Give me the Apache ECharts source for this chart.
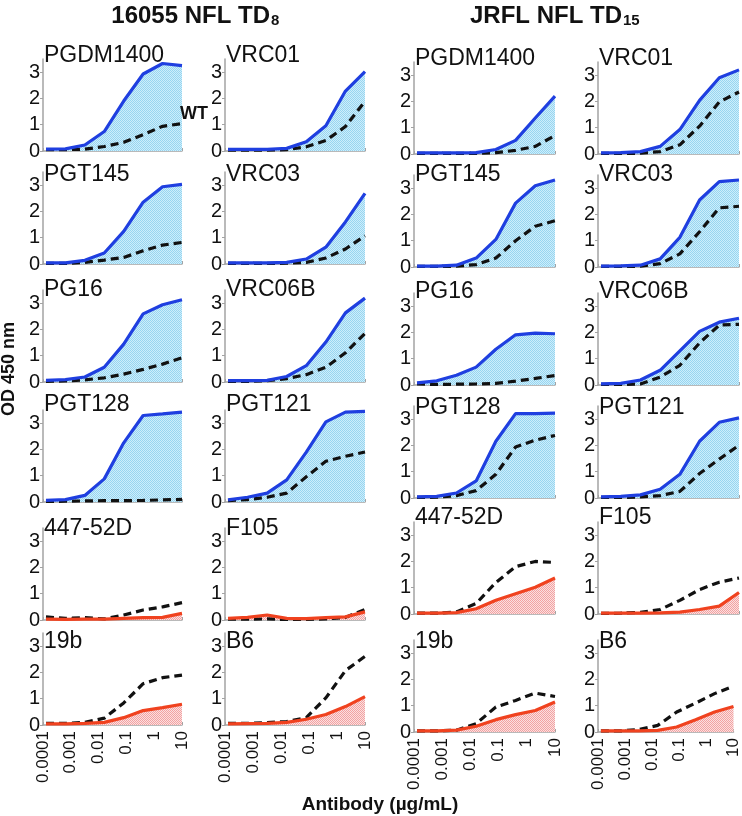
<!DOCTYPE html>
<html><head><meta charset="utf-8">
<script src="https://cdn.jsdelivr.net/npm/echarts@6/dist/echarts.min.js"></script>
<style>html,body{margin:0;padding:0;background:#fff}#chart{width:742px;height:816px}</style>
</head><body><div id="chart"></div>
<script>
// ---------- data ----------
const concentrations = [0.000128, 0.00064, 0.0032, 0.016, 0.08, 0.4, 2, 10];
const xTickLabels = ['0.0001', '0.001', '0.01', '0.1', '1', '10'];
const yTickLabels = ['0', '1', '2', '3'];
const envelopes = ['16055 NFL TD', 'JRFL NFL TD'];
const envelopeSubscripts = ['8', '15'];
const antibodies = ['PGDM1400', 'VRC01', 'PGT145', 'VRC03', 'PG16', 'VRC06B',
                    'PGT128', 'PGT121', '447-52D', 'F105', '19b', 'B6'];

// solid line (trimer), one row per antibody
const trimer16055 = [
  [0.07, 0.08, 0.23, 0.74, 1.90, 2.93, 3.33, 3.25],
  [0.06, 0.06, 0.06, 0.10, 0.35, 0.96, 2.28, 3.02],
  [0.04, 0.04, 0.14, 0.42, 1.24, 2.35, 2.94, 3.03],
  [0.04, 0.04, 0.04, 0.06, 0.19, 0.64, 1.60, 2.69],
  [0.06, 0.09, 0.19, 0.56, 1.44, 2.59, 2.94, 3.13],
  [0.05, 0.05, 0.06, 0.21, 0.62, 1.52, 2.63, 3.19],
  [0.06, 0.09, 0.25, 0.88, 2.25, 3.29, 3.35, 3.42],
  [0.08, 0.18, 0.34, 0.84, 1.90, 3.05, 3.42, 3.45],
  [0.03, 0.02, 0.03, 0.03, 0.06, 0.09, 0.10, 0.25],
  [0.06, 0.10, 0.19, 0.06, 0.05, 0.09, 0.12, 0.31],
  [0.04, 0.04, 0.06, 0.10, 0.28, 0.55, 0.66, 0.79],
  [0.04, 0.05, 0.06, 0.10, 0.22, 0.40, 0.70, 1.08]
];
// dashed line (WT)
const wt16055 = [
  [0.05, 0.05, 0.07, 0.17, 0.33, 0.62, 0.94, 1.04],
  [0.03, 0.03, 0.03, 0.05, 0.16, 0.40, 0.93, 1.89],
  [0.02, 0.02, 0.06, 0.15, 0.25, 0.50, 0.72, 0.82],
  [0.02, 0.02, 0.02, 0.03, 0.06, 0.23, 0.57, 1.07],
  [0.02, 0.04, 0.08, 0.16, 0.30, 0.48, 0.68, 0.92],
  [0.02, 0.02, 0.05, 0.13, 0.28, 0.56, 1.11, 1.85],
  [0.02, 0.03, 0.04, 0.05, 0.05, 0.06, 0.08, 0.10],
  [0.05, 0.09, 0.18, 0.34, 0.96, 1.55, 1.74, 1.90],
  [0.12, 0.06, 0.09, 0.04, 0.19, 0.38, 0.50, 0.66],
  [0.03, 0.03, 0.04, 0.02, 0.02, 0.04, 0.10, 0.40],
  [0.06, 0.06, 0.10, 0.26, 0.84, 1.57, 1.80, 1.90],
  [0.06, 0.06, 0.09, 0.13, 0.28, 1.03, 2.07, 2.61]
];
const trimerJRFL = [
  [0.04, 0.04, 0.04, 0.05, 0.17, 0.52, 1.37, 2.20],
  [0.04, 0.05, 0.09, 0.29, 0.93, 2.04, 2.90, 3.20],
  [0.03, 0.03, 0.07, 0.34, 1.05, 2.43, 3.09, 3.31],
  [0.03, 0.04, 0.07, 0.31, 1.13, 2.55, 3.25, 3.31],
  [0.08, 0.16, 0.37, 0.68, 1.36, 1.91, 1.97, 1.95],
  [0.04, 0.06, 0.19, 0.56, 1.30, 2.04, 2.39, 2.54],
  [0.04, 0.06, 0.19, 0.65, 2.16, 3.21, 3.21, 3.23],
  [0.04, 0.06, 0.12, 0.33, 0.90, 2.16, 2.88, 3.05],
  [0.03, 0.03, 0.05, 0.20, 0.52, 0.77, 1.02, 1.37],
  [0.03, 0.03, 0.03, 0.04, 0.07, 0.17, 0.30, 0.82],
  [0.04, 0.04, 0.07, 0.22, 0.47, 0.66, 0.82, 1.14],
  [0.04, 0.04, 0.04, 0.06, 0.19, 0.47, 0.76, 0.97]
];
const wtJRFL = [
  [0.02, 0.02, 0.02, 0.02, 0.05, 0.14, 0.29, 0.70],
  [0.02, 0.02, 0.03, 0.09, 0.35, 1.06, 1.98, 2.36],
  [0.02, 0.02, 0.03, 0.09, 0.34, 1.00, 1.55, 1.76],
  [0.02, 0.02, 0.03, 0.13, 0.50, 1.34, 2.25, 2.31],
  [0.04, 0.02, 0.03, 0.04, 0.06, 0.15, 0.25, 0.36],
  [0.02, 0.02, 0.04, 0.30, 0.75, 1.60, 2.28, 2.31],
  [0.02, 0.03, 0.09, 0.28, 0.90, 1.94, 2.20, 2.38],
  [0.02, 0.02, 0.04, 0.09, 0.25, 0.93, 1.48, 2.01],
  [0.03, 0.03, 0.08, 0.40, 1.20, 1.80, 2.00, 1.96],
  [0.02, 0.03, 0.06, 0.17, 0.52, 0.93, 1.21, 1.37],
  [0.04, 0.04, 0.07, 0.32, 0.95, 1.20, 1.48, 1.35],
  [0.04, 0.04, 0.09, 0.25, 0.76, 1.10, 1.46, 1.74]
];
const trimerData = [trimer16055, trimerJRFL];
const wtData = [wt16055, wtJRFL];

// ---------- layout & style ----------
const FONT = "'Liberation Sans', Arial, sans-serif";
const colLeft = [43, 225, 414, 598];
const colRight = [182, 365, 555, 739];
const rowZeroY = [[151, 264, 382, 502, 620, 725], [154, 267, 385, 498, 614, 732]];
const titleCapTop = [[46, 165, 280, 395, 519, 632], [49, 165, 282, 398, 508, 632]];
const PLOT_H = 92;
const AXIS_GRAY = '#a3a3a3';
const BLUE = '#1f3fe0', RED = '#f0421f';

function makePattern(bg, dot) {
  const c = document.createElement('canvas');
  c.width = 2; c.height = 2;
  const g = c.getContext('2d');
  g.fillStyle = bg; g.fillRect(0, 0, 2, 2);
  g.fillStyle = dot; g.fillRect(0, 0, 1, 1); g.fillRect(1, 1, 1, 1);
  return { image: c, repeat: 'repeat' };
}
const bluePattern = makePattern('#cdeefb', '#98d5f0');
const redPattern = makePattern('#fbe0e0', '#f2a2a2');

const grids = [], xAxes = [], yAxes = [], series = [], graphics = [];
let gi = 0;
for (let e = 0; e < 2; e++) {
  for (let p = 0; p < antibodies.length; p++) {
    const row = p >> 1, col = e * 2 + (p & 1);
    const bottomRow = row === 5;
    const isBnAb = p < 8;
    grids.push({
      left: colLeft[col], width: colRight[col] - colLeft[col],
      top: rowZeroY[e][row] - PLOT_H, height: PLOT_H
    });
    xAxes.push({
      type: 'log', logBase: 10, min: 0.0001, max: 10, gridIndex: gi,
      axisLine: { lineStyle: { color: AXIS_GRAY, width: 1.5 } },
      axisTick: { show: true, inside: true, length: 3, lineStyle: { color: AXIS_GRAY } },
      minorTick: { show: true, splitNumber: 2, length: 2, lineStyle: { color: AXIS_GRAY } },
      splitLine: { show: false },
      axisLabel: {
        show: bottomRow, rotate: 90, margin: 6, fontSize: 17, color: '#111', fontFamily: FONT,
        formatter: v => xTickLabels[Math.round(Math.log10(v)) + 4] || ''
      }
    });
    yAxes.push({
      type: 'value', min: 0, max: 3.5, interval: 1, gridIndex: gi,
      axisLine: { show: true, lineStyle: { color: AXIS_GRAY, width: 1.5 } },
      axisTick: { show: true, length: 3, lineStyle: { color: AXIS_GRAY } },
      splitLine: { show: false },
      axisLabel: {
        margin: 3, fontSize: 20, color: '#111', fontFamily: FONT, showMaxLabel: false,
        formatter: v => (Number.isInteger(v) ? yTickLabels[v] : '')
      }
    });
    const tr = trimerData[e][p].map((v, i) => [concentrations[i], v]);
    const wt = wtData[e][p].map((v, i) => [concentrations[i], v]);
    series.push({
      type: 'line', xAxisIndex: gi, yAxisIndex: gi, data: tr, showSymbol: false, silent: true,
      lineStyle: { width: 0, opacity: 0 }, areaStyle: { color: isBnAb ? bluePattern : redPattern, opacity: 1 },
      z: 1
    });
    series.push({
      type: 'line', xAxisIndex: gi, yAxisIndex: gi, data: wt, showSymbol: false, silent: true,
      lineStyle: { width: 3.2, color: '#111', type: [8, 5] }, z: 2
    });
    series.push({
      type: 'line', xAxisIndex: gi, yAxisIndex: gi, data: tr, showSymbol: false, silent: true,
      lineStyle: { width: 3.2, color: isBnAb ? BLUE : RED }, z: 3
    });
    graphics.push({
      type: 'text', x: colLeft[col] + 1, y: titleCapTop[e][row] - 2, z: 10,
      style: { text: antibodies[p], fontSize: 23, fontFamily: FONT, fill: '#111', align: 'left', verticalAlign: 'top' }
    });
    gi++;
  }
}

// headings
const headingRight = [270, 622];
for (let e = 0; e < 2; e++) {
  graphics.push({
    type: 'text', x: headingRight[e], y: 4, z: 10,
    style: { text: envelopes[e], fontSize: 24, fontWeight: 'bold', fontFamily: FONT, fill: '#111', align: 'right', verticalAlign: 'top' }
  });
  graphics.push({
    type: 'text', x: headingRight[e] + 1, y: 13, z: 10,
    style: { text: envelopeSubscripts[e], fontSize: 15, fontWeight: 'bold', fontFamily: FONT, fill: '#111', align: 'left', verticalAlign: 'top' }
  });
}
graphics.push({
  type: 'text', x: 9, y: 369, rotation: Math.PI / 2, z: 10,
  style: { text: 'OD 450 nm', fontSize: 18, fontWeight: 'bold', fontFamily: FONT, fill: '#111', align: 'center', verticalAlign: 'middle' }
});
graphics.push({
  type: 'text', x: 380, y: 805, z: 10,
  style: { text: 'Antibody (µg/mL)', fontSize: 19, fontWeight: 'bold', fontFamily: FONT, fill: '#111', align: 'center', verticalAlign: 'middle' }
});
graphics.push({
  type: 'text', x: 180, y: 114, z: 10,
  style: { text: 'WT', fontSize: 18, fontWeight: 'bold', fontFamily: FONT, fill: '#111', align: 'left', verticalAlign: 'middle' }
});

const chart = echarts.init(document.getElementById('chart'), null, { renderer: 'canvas' });
chart.setOption({
  animation: false,
  backgroundColor: '#ffffff',
  grid: grids, xAxis: xAxes, yAxis: yAxes, series: series, graphic: graphics
});
</script></body></html>
